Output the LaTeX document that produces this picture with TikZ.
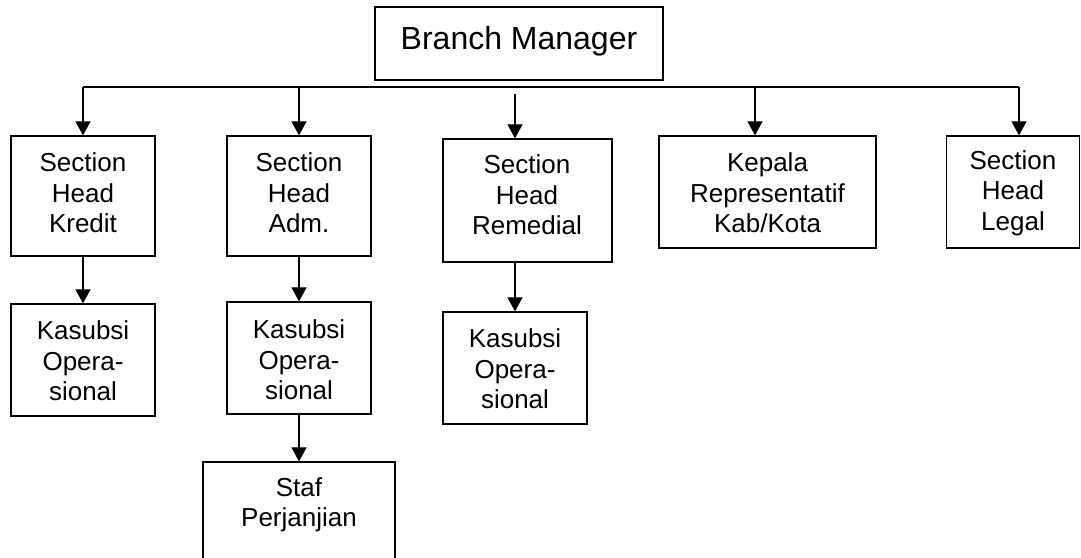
\documentclass[tikz,border=0pt]{standalone}
\usepackage{fontspec}
\setmainfont{Liberation Sans}
\usetikzlibrary{arrows.meta}
\begin{document}
\begin{tikzpicture}[x=1pt,y=-1pt,
  box/.style={draw, line width=1.3pt, inner sep=0pt},
  txt/.style={align=center, inner sep=0pt, font=\fontsize{26}{30.5}\selectfont},
  small/.style={minimum width=144pt, minimum height=112pt},
  conn/.style={line width=1.1pt, -{Triangle[width=15pt,length=14pt]}},
  bus/.style={line width=1.1pt}]
\useasboundingbox (0,0) rectangle (1081,557);

% boxes
\node[box, minimum width=288pt, minimum height=73pt] (bm) at (519,43.5) {};
\node[box, minimum width=144pt, minimum height=120pt] (kredit) at (83,196) {};
\node[box, minimum width=144pt, minimum height=120pt] (adm) at (299,196) {};
\node[box, minimum width=169pt, minimum height=123pt] (remedial) at (527.5,200.5) {};
\node[box, minimum width=217pt, minimum height=112pt] (kepala) at (767.5,192) {};
\node[box, minimum width=133pt, minimum height=112pt] (legal) at (1013,192) {};
\node[box, small] (ks1) at (83,360) {};
\node[box, small] (ks2) at (299,358) {};
\node[box, small] (ks3) at (515,368) {};
\node[box, minimum width=192pt, minimum height=112pt] (staf) at (299,518) {};

% texts
\node[txt, font=\fontsize{32}{38}\selectfont] (bm-t) at (519,41.5) {Branch Manager};
\node[txt] (kredit-t) at (83,193) {Section\\Head\\Kredit};
\node[txt] (adm-t) at (299,193) {Section\\Head\\Adm.};
\node[txt] (remedial-t) at (527,195) {Section\\Head\\Remedial};
\node[txt] (kepala-t) at (767.5,193) {Kepala\\Representatif\\Kab/Kota};
\node[txt] (legal-t) at (1013,193) {Section\\Head\\Legal};
\node[txt] (ks1-t) at (83,361) {Kasubsi\\Opera-\\sional};
\node[txt] (ks2-t) at (299,360) {Kasubsi\\Opera-\\sional};
\node[txt] (ks3-t) at (515,369) {Kasubsi\\Opera-\\sional};
\node[txt] (staf-t) at (299,505) {Staf\\Perjanjian};

% connectors
\coordinate (busK) at (83,87);
\coordinate (busA) at (299,87);
\coordinate (busKe) at (755,87);
\coordinate (busL) at (1019,87);
\coordinate (remTop) at (515,94);

\draw[bus] (busK) -- (busL);
\draw[conn] (busK) -- (kredit);
\draw[conn] (busA) -- (adm);
\draw[conn] (remTop) -- (remTop |- remedial.north);
\draw[conn] (busKe) -- (busKe |- kepala.north);
\draw[conn] (busL) -- (busL |- legal.north);

\draw[conn] (kredit) -- (ks1);
\draw[conn] (adm) -- (ks2);
\draw[conn] (ks3 |- remedial.south) -- (ks3.north);
\draw[conn] (ks2) -- (staf);
\end{tikzpicture}
\end{document}
